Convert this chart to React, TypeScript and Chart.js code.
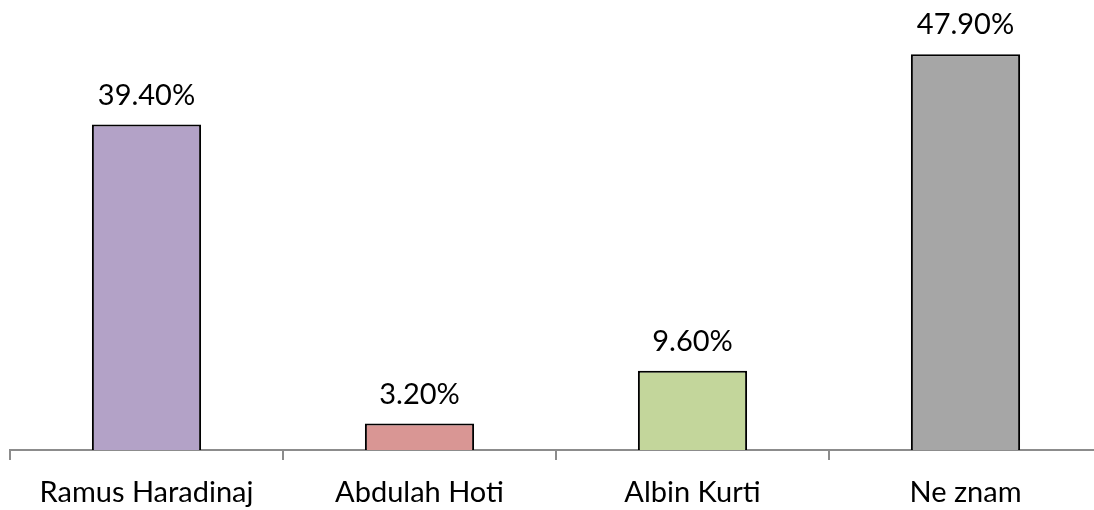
import React, { useEffect, useRef } from "react";
import { Chart, registerables } from "chart.js";

Chart.register(...registerables);

const categories = ["Ramus Haradinaj", "Abdulah Hoti", "Albin Kurti", "Ne znam"];
const values = [39.4, 3.2, 9.6, 47.9];
const barColors = ["#B3A2C7", "#D99694", "#C3D69B", "#A6A6A6"];
const FONT = "Lato, 'Open Sans', sans-serif";

const labelPlugin = {
  id: "valueLabels",
  afterDatasetsDraw(chart: any) {
    const ctx = chart.ctx;
    const meta = chart.getDatasetMeta(0);
    ctx.save();
    ctx.font = `29px ${FONT}`;
    ctx.fillStyle = "#000";
    ctx.textAlign = "center";
    ctx.textBaseline = "alphabetic";
    meta.data.forEach((bar: any, i: number) => {
      ctx.fillText(values[i].toFixed(2) + "%", bar.x, bar.y - 20);
    });
    ctx.restore();
  },
};

export default function App() {
  const ref = useRef<HTMLCanvasElement | null>(null);
  useEffect(() => {
    if (!ref.current) return;
    const chart = new Chart(ref.current, {
      type: "bar",
      data: {
        labels: categories,
        datasets: [
          {
            data: values,
            backgroundColor: barColors,
            borderColor: "#000",
            borderWidth: 2,
            categoryPercentage: 1,
            barPercentage: 0.4,
          },
        ],
      },
      options: {
        responsive: false,
        animation: false,
        events: [],
        layout: { padding: { left: 10, right: 8, top: 37, bottom: 0 } },
        plugins: { legend: { display: false }, tooltip: { enabled: false } },
        scales: {
          y: { display: false, min: 0, max: 50 },
          x: {
            afterFit: (scale: any) => {
              scale.height = 60;
            },
            border: { display: true, color: "#8c8c8c", width: 2 },
            grid: {
              display: true,
              drawOnChartArea: false,
              drawTicks: true,
              tickLength: 10,
              color: "#8c8c8c",
              lineWidth: 2,
              offset: true,
            },
            ticks: {
              color: "#000",
              padding: 15,
              font: { family: FONT, size: 29 },
              maxRotation: 0,
            },
          },
        },
      },
      plugins: [labelPlugin],
    });
    return () => chart.destroy();
  }, []);
  return (
    <div
      style={{
        position: "fixed",
        left: 0,
        top: 0,
        width: 1094,
        height: 510,
        overflow: "hidden",
        background: "#fff",
      }}
    >
      <canvas ref={ref} width={1110} height={510} style={{ display: "block" }} />
    </div>
  );
}
